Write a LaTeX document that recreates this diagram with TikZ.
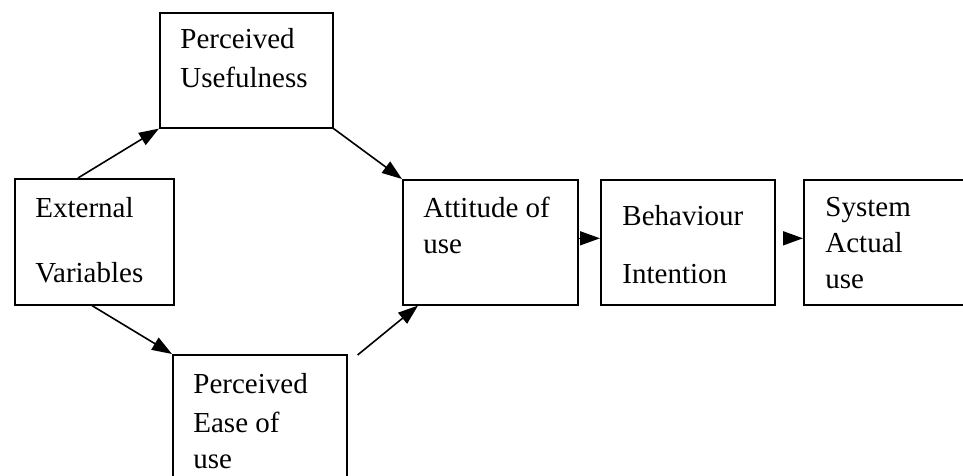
\documentclass[tikz,border=0pt]{standalone}
\usepackage{fontspec}
\setmainfont{Liberation Serif}
\usetikzlibrary{arrows.meta, calc}

\begin{document}
\begin{tikzpicture}[
    x=0.5pt, y=-0.5pt,
    box/.style 2 args={rectangle, draw, line width=0.8pt, inner sep=0pt, anchor=north west, minimum width=#1*0.5pt, minimum height=#2*0.5pt},
    lbl/.style={font=\fontsize{14.5}{18}\selectfont, align=left, inner sep=0pt, anchor=base west},
    arrow/.style={-{Triangle[length=10pt, width=7pt]}, line width=0.8pt}
]
\useasboundingbox (0,0) rectangle (963,476);
\clip (0,0) rectangle (963,476);

% boxes
\node[box={173}{115}] (pu) at (159,12) {};
\node[box={159}{126}] (ev) at (14,178) {};
\node[box={175}{125}] (at) at (402,179) {};
\node[box={174}{125}] (bi) at (600,179) {};
\node[box={190}{125}] (sa) at (803,179) {};
\node[box={174}{150}] (pe) at (172,354) {};

% texts (anchored on the last line)
\node[lbl] (pu-text) at ($(pu.north west)+(21,76)$) {Perceived\\[1.5pt]Usefulness};
\node[lbl] (ev-text) at ($(ev.north west)+(21,104)$) {External\\[14.5pt]Variables};
\node[lbl] (at-text) at ($(at.north west)+(21,74)$) {Attitude of\\use};
\node[lbl] (bi-text) at ($(bi.north west)+(22,104)$) {Behaviour\\[11pt]Intention};
\node[lbl] (sa-text) at ($(sa.north west)+(22,109)$) {System\\Actual\\use};
\node[lbl] (pe-text) at ($(pe.north west)+(21,114)$) {Perceived\\[1.5pt]Ease of\\use};

% connectors
\draw[arrow] ($(ev.north west)+(64,0)$) -- (pu.south west);
\draw[arrow] (pu.south east) -- (at.north west);
\draw[arrow] ($(ev.south west)+(78,0)$) -- (pe.north west);
\draw[arrow] ($(pe.north east)+(10,1)$) -- ($(at.south west)+(16,0)$);
\draw[arrow] ($(at.east)+(0,-4)$) -- ($(bi.west)+(0,-4)$);
\draw[arrow] ($(bi.east)+(9,-4)$) -- ($(sa.west)+(0,-4)$);

\end{tikzpicture}
\end{document}
